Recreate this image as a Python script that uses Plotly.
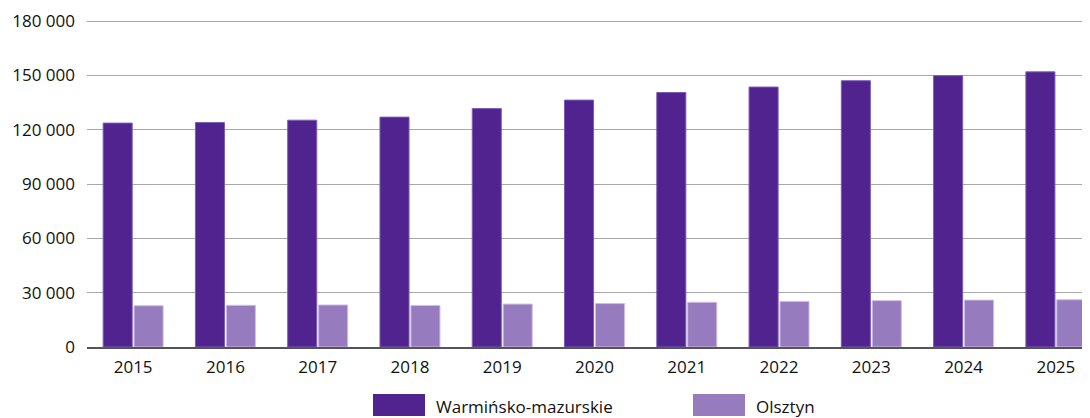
import plotly.graph_objects as go

years = ["2015", "2016", "2017", "2018", "2019", "2020", "2021", "2022", "2023", "2024", "2025"]
warminsko = [123700, 124000, 125300, 127000, 131700, 136400, 140600, 143600, 147100, 149900, 152000]
olsztyn = [22800, 23000, 23200, 22900, 23700, 24000, 24700, 25200, 25600, 25900, 26100]
series_names = ["Warmińsko-mazurskie", "Olsztyn"]
y_ticks = [0, 30000, 60000, 90000, 120000, 150000, 180000]

dark = "#51238f"
light = "#967bbf"

# page body has an 8px default margin, so the figure is offset by 8px
OFF = 8
YMAX = 181200
PX_PER = 326 / 180000
PH = round(YMAX * PX_PER)
W, H = 1090 - OFF, 418 - OFF
L = 87 - OFF
B = 418 - 347
T = H - B - PH
PW = W - L

fig = go.Figure()
fig.add_bar(x=years, y=warminsko, name=series_names[0],
            marker=dict(color=dark, line=dict(color="#7a5cb8", width=1)))
fig.add_bar(x=years, y=olsztyn, name=series_names[1],
            marker=dict(color=light, line=dict(color="#cbbde3", width=1)))

font = "Open Sans, Noto Sans, sans-serif"
fig.update_layout(
    width=W, height=H,
    margin=dict(l=L, r=0, t=T, b=B, pad=0),
    paper_bgcolor="white", plot_bgcolor="white",
    barmode="group", bargap=0.33, bargroupgap=0.06,
    separators=", ",
    showlegend=False,
    font=dict(family=font, size=17, color="#111"),
)
fig.update_xaxes(
    type="category", range=[-0.5, 10.37],
    showline=True, linecolor="#555", linewidth=1.5,
    ticks="", tickfont=dict(size=17, family=font),
    ticklabelstandoff=4,
    showgrid=False,
)
fig.update_yaxes(
    range=[0, YMAX], tickvals=y_ticks, tickformat=",d",
    showgrid=True, gridcolor="#a8a8a8", gridwidth=1.3,
    zeroline=False, showline=False, ticks="",
    ticklabelstandoff=11, tickfont=dict(size=17, family=font),
)

# custom legend with wide swatches
legend_items = [(series_names[0], dark, 373), (series_names[1], light, 693)]
for name, col, x0 in legend_items:
    fig.add_shape(type="rect", xref="paper", yref="paper",
                  x0=(x0 - 87) / PW, x1=(x0 + 52 - 87) / PW,
                  y0=(347 - 416) / PH, y1=(347 - 394) / PH,
                  fillcolor=col, line=dict(width=0), layer="above")
    fig.add_annotation(text=name, xref="paper", yref="paper",
                       x=(x0 + 61 - 87) / PW, y=(347 - 406) / PH,
                       xanchor="left", yanchor="middle", showarrow=False,
                       font=dict(size=17, family=font, color="#111"))

fig.write_html("out.html")
